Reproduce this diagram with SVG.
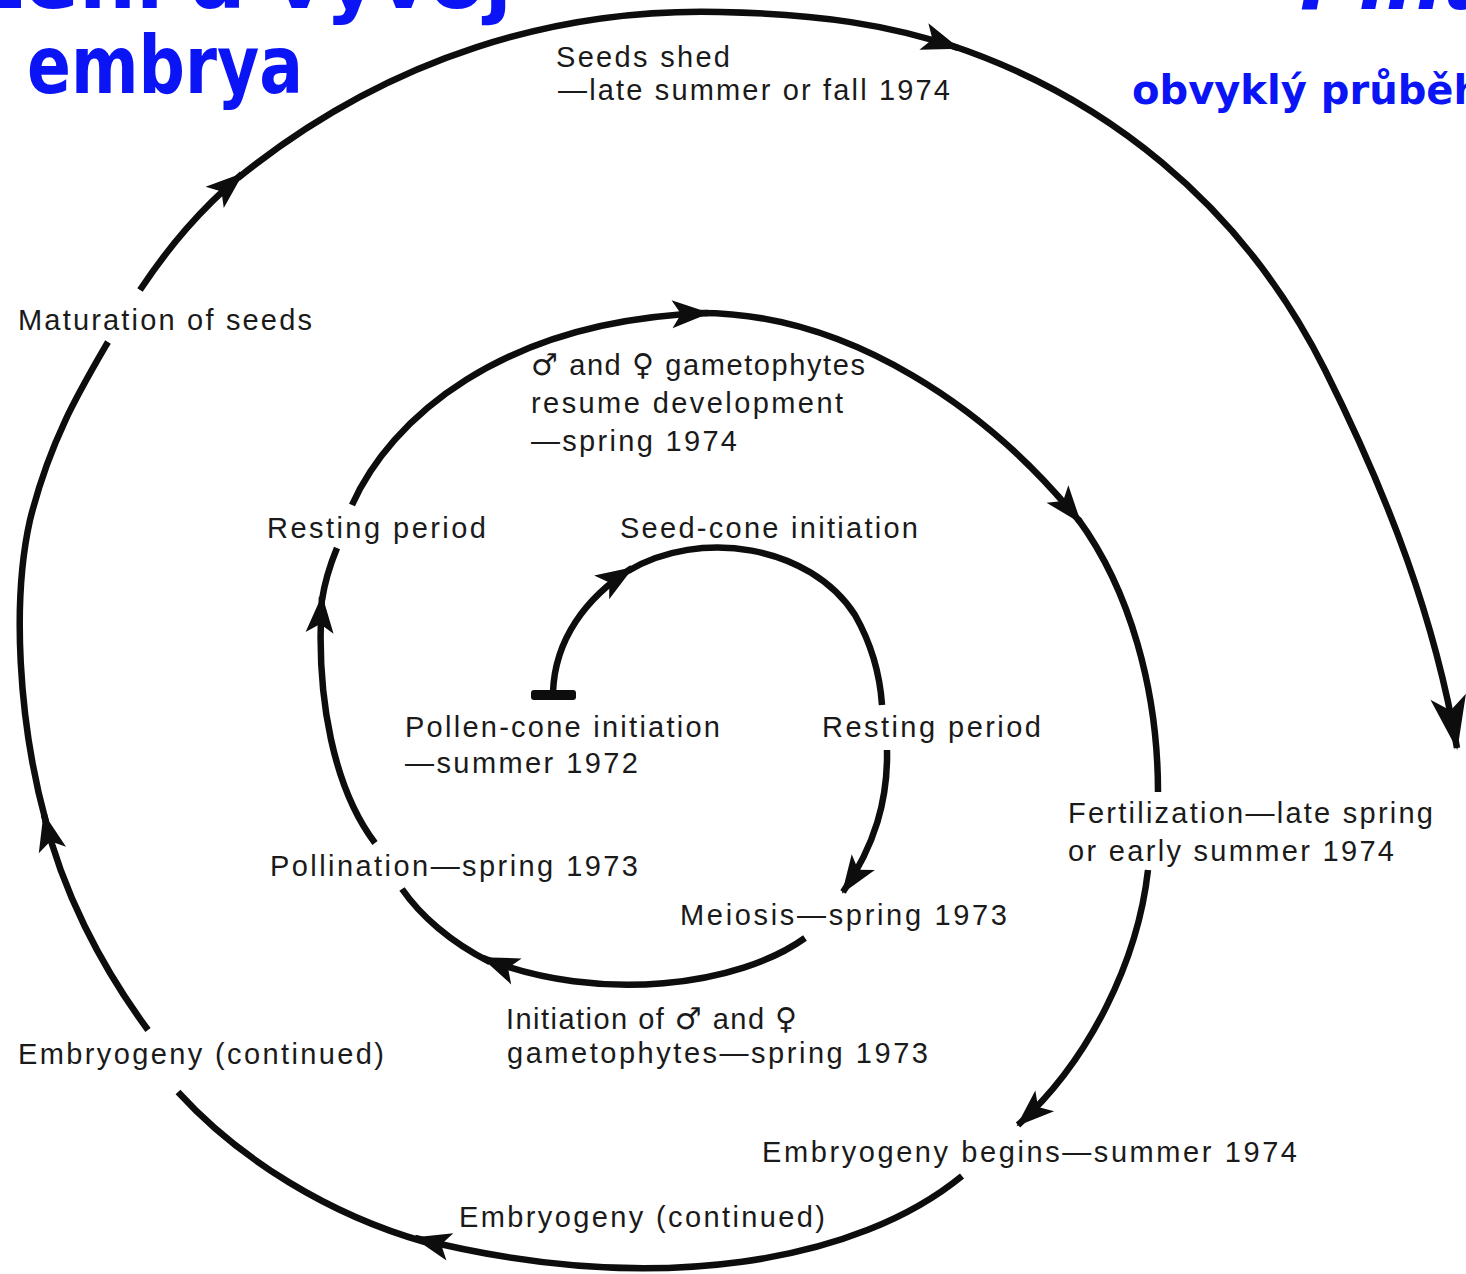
<svg xmlns="http://www.w3.org/2000/svg" width="1466" height="1274" viewBox="0 0 1466 1274">
<style>
.lbl{font-family:"Liberation Sans","DejaVu Sans",sans-serif;font-size:29px;fill:#1a1a1a}
.sym{font-family:"DejaVu Sans",sans-serif;font-size:30px}
.ttl{font-family:"Comic Sans MS","DejaVu Sans",sans-serif;font-weight:bold;fill:#0a14f5}
.c{fill:none;stroke:#0d0d0d;stroke-width:6.5;stroke-linecap:butt}
</style>
<defs>
<marker id="ah" markerUnits="userSpaceOnUse" markerWidth="44" markerHeight="36" viewBox="-40 -18 42 36" refX="0" refY="0" orient="auto">
<path d="M2,0 L-36,-14 L-27,0 L-36,14 Z" fill="#0d0d0d"/>
</marker>
<marker id="ahb" markerUnits="userSpaceOnUse" markerWidth="60" markerHeight="44" viewBox="-56 -22 58 44" refX="0" refY="0" orient="auto">
<path d="M2,0 L-52,-18 L-38,0 L-52,18 Z" fill="#0d0d0d"/>
</marker>
</defs>
<rect width="1466" height="1274" fill="#ffffff"/>

<g id="titles">
<text class="ttl" x="512" y="8" font-size="80" text-anchor="end">Oplození a vývoj</text>
<text class="ttl" x="27" y="93" font-size="80" textLength="276" lengthAdjust="spacingAndGlyphs">embrya</text>
<text class="ttl" x="1300" y="9" font-size="80" font-style="italic">Pinus</text>
<text class="ttl" x="1132" y="104" font-size="40" textLength="350" lengthAdjust="spacingAndGlyphs">obvyklý průběh</text>
</g>

<g id="connectors">
<rect x="531" y="690" width="45" height="10" rx="3" fill="#0d0d0d"/>
<path class="c" d="M553,692 C555,640 585,598 632,568" marker-end="url(#ah)"/>
<path class="c" d="M628,571 C700,528 810,545 855,615 C872,645 880,675 882,705"/>
<path class="c" d="M887,750 C888,800 875,845 843,892" marker-end="url(#ah)"/>
<path class="c" d="M805,938 C740,985 600,1005 483,958" marker-end="url(#ah)"/>
<path class="c" d="M490,962 C450,942 420,915 402,889"/>
<path class="c" d="M375,843 C335,790 315,700 322,597" marker-end="url(#ah)"/>
<path class="c" d="M322,600 C325,580 330,565 337,548"/>
<path class="c" d="M352,505 C390,420 500,320 708,313" marker-end="url(#ah)"/>
<path class="c" d="M700,313 C850,313 990,410 1080,522" marker-end="url(#ah)"/>
<path class="c" d="M1078,519 C1130,590 1158,690 1158,792"/>
<path class="c" d="M1148,870 C1138,960 1090,1060 1018,1125" marker-end="url(#ah)"/>
<path class="c" d="M962,1176 C860,1260 660,1300 415,1238" marker-end="url(#ah)"/>
<path class="c" d="M425,1242 C330,1215 240,1160 178,1092"/>
<path class="c" d="M148,1030 C100,965 62,890 44,815" marker-end="url(#ah)"/>
<path class="c" d="M46,822 C18,720 12,600 30,520 C50,440 80,390 108,342"/>
<path class="c" d="M140,290 C170,245 200,210 242,174" marker-end="url(#ah)"/>
<path class="c" d="M238,178 C390,55 560,8 720,12 C820,14 890,25 958,48" marker-end="url(#ah)"/>
<path class="c" d="M950,45 C1100,95 1240,200 1325,370 C1390,500 1435,620 1457,748" marker-end="url(#ahb)"/>
</g>

<g id="seeds-shed"><text class="lbl" x="556" y="67" textLength="174" lengthAdjust="spacing">Seeds shed</text><text class="lbl" x="558" y="100" textLength="392" lengthAdjust="spacing">—late summer or fall 1974</text></g>
<g id="maturation"><text class="lbl" x="18" y="330" textLength="294" lengthAdjust="spacing">Maturation of seeds</text></g>
<g id="resume"><text class="lbl" x="531" y="375" textLength="334" lengthAdjust="spacing"><tspan class="sym">♂</tspan> and <tspan class="sym">♀</tspan> gametophytes</text><text class="lbl" x="531" y="413" textLength="312" lengthAdjust="spacing">resume development</text><text class="lbl" x="531" y="451" textLength="206" lengthAdjust="spacing">—spring 1974</text></g>
<g id="resting-left"><text class="lbl" x="267" y="538" textLength="219" lengthAdjust="spacing">Resting period</text></g>
<g id="seed-cone"><text class="lbl" x="620" y="538" textLength="298" lengthAdjust="spacing">Seed-cone initiation</text></g>
<g id="pollen-cone"><text class="lbl" x="405" y="737" textLength="315" lengthAdjust="spacing">Pollen-cone initiation</text><text class="lbl" x="405" y="773" textLength="233" lengthAdjust="spacing">—summer 1972</text></g>
<g id="resting-right"><text class="lbl" x="822" y="737" textLength="219" lengthAdjust="spacing">Resting period</text></g>
<g id="fertilization"><text class="lbl" x="1068" y="823" textLength="365" lengthAdjust="spacing">Fertilization—late spring</text><text class="lbl" x="1068" y="861" textLength="326" lengthAdjust="spacing">or early summer 1974</text></g>
<g id="pollination"><text class="lbl" x="270" y="876" textLength="368" lengthAdjust="spacing">Pollination—spring 1973</text></g>
<g id="meiosis"><text class="lbl" x="680" y="925" textLength="327" lengthAdjust="spacing">Meiosis—spring 1973</text></g>
<g id="initiation"><text class="lbl" x="506" y="1029" textLength="291" lengthAdjust="spacing">Initiation of <tspan class="sym">♂</tspan> and <tspan class="sym">♀</tspan></text><text class="lbl" x="507" y="1063" textLength="421" lengthAdjust="spacing">gametophytes—spring 1973</text></g>
<g id="embryogeny-left"><text class="lbl" x="18" y="1064" textLength="366" lengthAdjust="spacing">Embryogeny (continued)</text></g>
<g id="embryogeny-begins"><text class="lbl" x="762" y="1162" textLength="535" lengthAdjust="spacing">Embryogeny begins—summer 1974</text></g>
<g id="embryogeny-bottom"><text class="lbl" x="459" y="1227" textLength="366" lengthAdjust="spacing">Embryogeny (continued)</text></g>
</svg>
